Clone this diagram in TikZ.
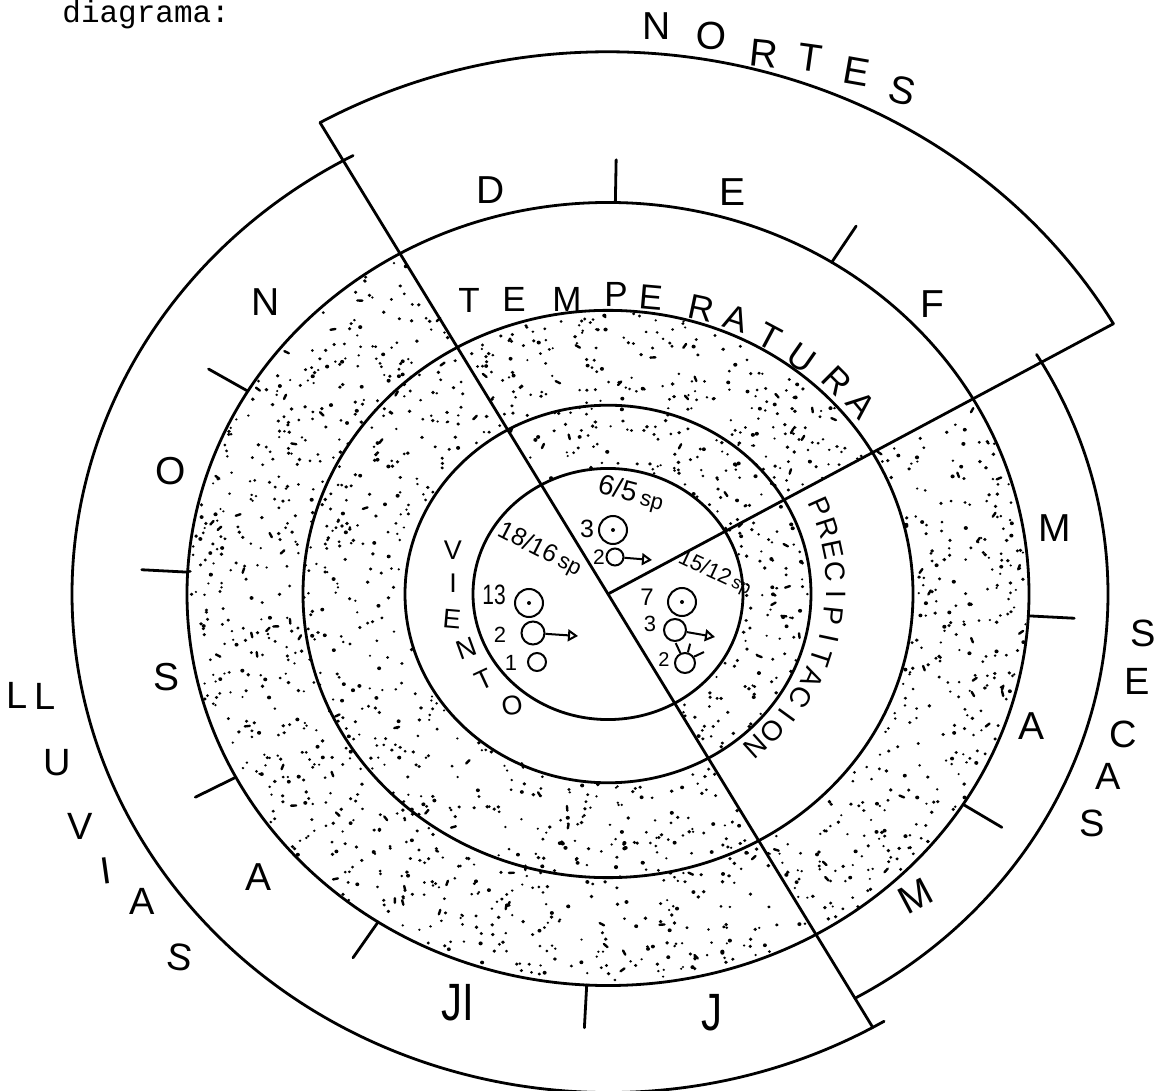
\documentclass[tikz,border=0pt]{standalone}
\usepackage{fontspec}
\setmainfont{Liberation Sans}
\newfontfamily\typewriter{Liberation Mono}
\usetikzlibrary{arrows.meta}
\newcommand\fs[1]{\fontsize{#1}{#1}\selectfont}
% random stipple in an annular sector: angle1 angle2 r1 r2 (hundreds of px) dots dashes
\newcommand\stipple[6]{%
  \foreach \i in {1,...,#5}{%
    \pgfmathsetmacro\stA{#1+(#2-#1)*rnd}%
    \pgfmathsetmacro\stR{100*sqrt(#3*#3+rnd*(#4*#4-#3*#3))}%
    \pgfmathsetmacro\stD{1.2+0.9*rnd}%
    \fill (\stA:\stR) circle[radius=\stD];
  }%
  \foreach \i in {1,...,#6}{%
    \pgfmathsetmacro\stA{#1+(#2-#1)*rnd}%
    \pgfmathsetmacro\stR{100*sqrt(#3*#3+rnd*(#4*#4-#3*#3))}%
    \pgfmathsetmacro\stB{360*rnd}%
    \draw[line width=1.2pt, line cap=round] (\stA:\stR) -- ++(\stB:5);
  }%
}
\begin{document}
\begin{tikzpicture}[x=0.5pt,y=-0.5pt,
  ring/.style={line width=1.4pt, line cap=round},
  lab/.style={inner sep=0pt, font=\fs{19.5}},
  big/.style={inner sep=0pt, font=\fs{19}},
  tmp/.style={inner sep=0pt, font=\fs{17.5}},
  prc/.style={inner sep=0pt, font=\fs{14}},
  vnt/.style={inner sep=0pt, font=\fs{13.5}},
  num/.style={inner sep=0pt, font=\fs{12}},
  sym/.style={circle, draw, inner sep=0pt, line width=1pt},
  arr/.style={line width=1pt, -{Triangle[open, length=5pt, width=6pt]}}]
\useasboundingbox (0,0) rectangle (1158,1091);

\node[anchor=base west, inner sep=0pt, font=\typewriter\fs{15.5}] (title) at (62,23) {diagrama:};

\begin{scope}[shift={(608,594)}, yscale=0.93]
  \pgfmathsetseed{4711}
  % stippled regions
  \stipple{60.4}{240.4}{2.05}{4.19}{980}{60}
  \stipple{240.4}{330.1}{1.37}{3.03}{290}{20}
  \stipple{-29.9}{60.4}{1.37}{2.01}{95}{7}
  \stipple{-29.9}{60.4}{3.07}{4.19}{310}{22}
  % circles
  \draw[ring] (0,0) circle[radius=135];
  \draw[ring] (0,0) circle[radius=203];
  \draw[ring] (0,0) circle[radius=305];
  \draw[ring] (0,0) circle[radius=421];
  % dividing lines
  \coordinate (O) at (0,0);
  \coordinate (nw) at (240.4:583);
  \coordinate (se) at (60.4:536);
  \coordinate (ne) at (-29.9:583);
  \draw[ring] (nw) -- (se);
  \draw[ring] (O) -- (ne);
  % outer arcs
  \draw[ring] (nw) arc[start angle=240.4, end angle=330.1, radius=583];
  \draw[ring] (59:536) arc[start angle=59, end angle=241.6, radius=536];
  \draw[ring] (-31:500) arc[start angle=-31, end angle=60.4, radius=500];
  % month ticks
  \foreach \a in {-89,-57.9,3.2,32.5,92.9,123.1,152.1,183.2,211.2}
    \draw[ring] (\a:421) -- (\a:467);
\end{scope}

% NORTES
\node[lab] (nN) at (657,26) {N};
\node[lab, rotate=-3] (nO) at (711,36) {O};
\node[lab, rotate=-6] (nR) at (764,54) {R};
\node[lab, rotate=-8] (nT) at (810,58) {T};
\node[lab, rotate=-10] (nE) at (857,72) {E};
\node[lab, rotate=-14] (nS) at (902,91) {S};

% months
\node[lab] (mD) at (491,190) {D};
\node[lab] (mE) at (733,192) {E};
\node[lab] (mF) at (932,304) {F};
\node[lab] (mM1) at (1055,528) {M};
\node[lab] (mA1) at (1031,726) {A};
\node[lab, rotate=28] (mM2) at (916,896) {M};
\node[lab, font=\fs{21}, yscale=1.25] (mJ) at (712,1013) {J};
\node[lab, font=\fs{21}, yscale=1.25] (mJl) at (458,1003) {JI};
\node[lab] (mA2) at (259,877) {A};
\node[lab] (mS) at (167,677) {S};
\node[lab] (mO) at (171,471) {O};
\node[lab] (mN) at (266,302) {N};

% LLUVIAS
\node[big] (l1) at (17,695) {L};
\node[big] (l2) at (45,696) {L};
\node[big] (l3) at (57,763) {U};
\node[big] (l4) at (80,826) {V};
\node[big, rotate=8] (l5) at (106,871) {I};
\node[big] (l6) at (142,901) {A};
\node[big, rotate=-8] (l7) at (180,957) {S};

% SECAS
\node[big] (s1l) at (1143,633) {S};
\node[big] (s2l) at (1137,681) {E};
\node[big] (s3l) at (1123,734) {C};
\node[big] (s4l) at (1108,776) {A};
\node[big] (s5l) at (1092,823) {S};

% TEMPERATURA
\node[tmp] (t1) at (469,300) {T};
\node[tmp] (t2) at (514,299) {E};
\node[tmp] (t3) at (567,299) {M};
\node[tmp] (t4) at (616,294) {P};
\node[tmp, rotate=-5] (t5) at (651,298) {E};
\node[tmp, rotate=-12] (t6) at (701,308) {R};
\node[tmp, rotate=-18] (t7) at (736,319) {A};
\node[tmp, rotate=-28] (t8) at (770,337) {T};
\node[tmp, rotate=-35] (t9) at (802,358) {U};
\node[tmp, rotate=-45] (t10) at (837,381) {R};
\node[tmp, rotate=-50] (t11) at (861,405) {A};

% PRECIPITACION
\node[prc, rotate=-66] (p1) at (820,507) {P};
\node[prc, rotate=-72] (p2) at (828,528) {R};
\node[prc, rotate=-78] (p3) at (833,550) {E};
\node[prc, rotate=-84] (p4) at (835,572) {C};
\node[prc, rotate=-90] (p5) at (836,594) {I};
\node[prc, rotate=-96] (p6) at (833,616) {P};
\node[prc, rotate=-102] (p7) at (829,638) {I};
\node[prc, rotate=-108] (p8) at (821,658) {T};
\node[prc, rotate=-114] (p9) at (812,678) {A};
\node[prc, rotate=-120] (p10) at (801,697) {C};
\node[prc, rotate=-126] (p11) at (787,715) {I};
\node[prc, rotate=-132] (p12) at (772,731) {O};
\node[prc, rotate=-138] (p13) at (755,746) {N};

% VIENTO
\node[vnt] (v1) at (453,550) {V};
\node[vnt] (v2) at (453,583) {I};
\node[vnt, rotate=-5] (v3) at (452,619) {E};
\node[vnt, rotate=20] (v4) at (466,648) {N};
\node[vnt, rotate=25] (v5) at (484,680) {T};
\node[vnt, rotate=10] (v6) at (512,706) {O};

% inner sector texts
\node[num, font=\fs{14}, rotate=-15] (q1) at (631,494) {6/5\,{\fs{11}sp}};
\node[num, font=\fs{12.5}, rotate=-27] (q2) at (540,550) {18/16\,{\fs{11}sp}};
\node[num, font=\fs{11}, rotate=-25] (q3) at (715,573) {15/12\,{\fs{9}sp}};

\node[num, font=\fs{12.5}] (d1) at (587,529) {3};
\node[num, font=\fs{10.5}] (d2) at (599,557) {2};
\node[num, font=\fs{14}, xscale=0.75] (d3) at (494,595) {13};
\node[num, font=\fs{11}] (d4) at (500,635) {2};
\node[num, font=\fs{11}] (d5) at (511,663) {1};
\node[num, font=\fs{12}] (d6) at (647,597) {7};
\node[num, font=\fs{11}] (d7) at (650,624) {3};
\node[num, font=\fs{10}] (d8) at (664,660) {2};

% symbols
\node[sym, minimum size=14pt] (c1) at (613,530) {};
\fill (c1.center) circle[radius=2];
\node[sym, minimum size=8.5pt] (c2) at (615,557) {};
\coordinate (a2) at (652,560);
\draw[arr] (c2) -- (a2);

\node[sym, minimum size=14pt] (c3) at (529,603) {};
\fill (c3.center) circle[radius=2];
\node[sym, minimum size=11.5pt] (c4) at (533,633) {};
\coordinate (a4) at (578,636);
\draw[arr] (c4) -- (a4);
\node[sym, minimum size=9pt] (c5) at (537,662) {};

\node[sym, minimum size=14pt] (c6) at (682,602) {};
\fill (c6.center) circle[radius=2];
\node[sym, minimum size=11pt] (c7) at (675,630) {};
\coordinate (a7) at (715,637);
\draw[arr] (c7) -- (a7);
\node[sym, minimum size=10pt] (c8) at (685,663) {};
\draw[line width=1pt] (c8.115) -- ++(-115:11);
\draw[line width=1pt] (c8.75) -- ++(-75:9);
\draw[line width=1pt] (c8.35) -- ++(-25:11);
\end{tikzpicture}
\end{document}
